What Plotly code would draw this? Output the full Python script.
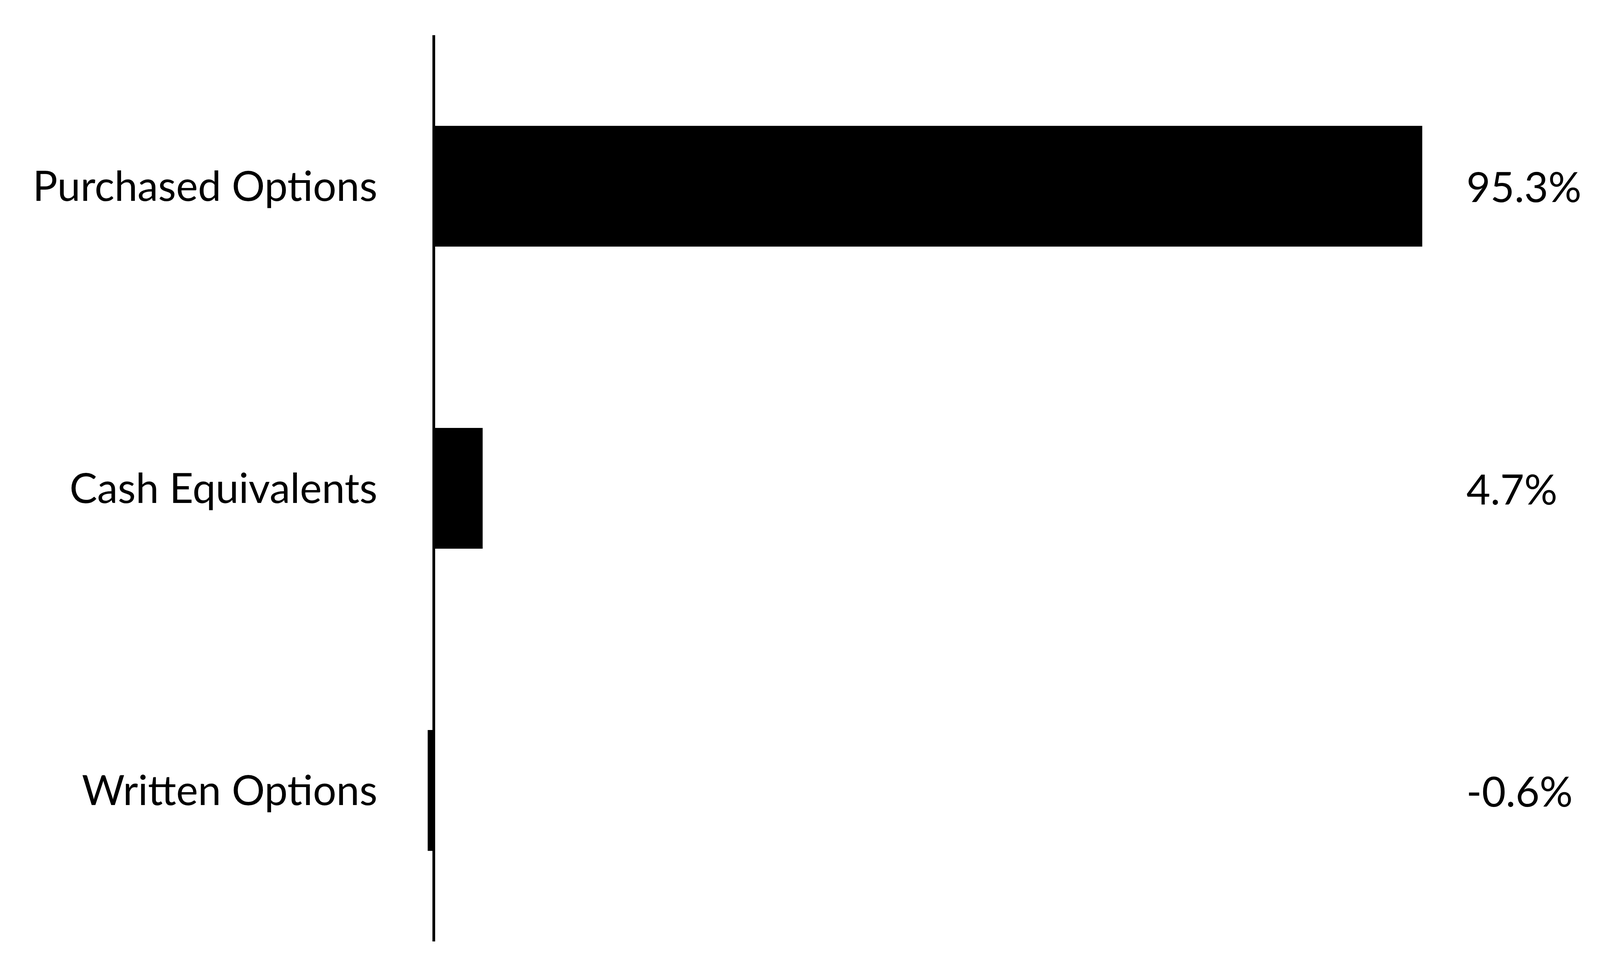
import plotly.graph_objects as go

categories = ["Purchased Options", "Cash Equivalents", "Written Options"]
values = [95.3, 4.7, -0.6]
value_labels = ["95.3%", "4.7%", "-0.6%"]

FONT = "Lato"
FS = 106

fig = go.Figure()
fig.add_trace(go.Bar(
    x=values, y=categories, orientation="h",
    marker=dict(color="black", line=dict(width=0)),
    width=0.4, hoverinfo="skip",
))

for cat, lab in zip(categories, value_labels):
    fig.add_annotation(
        x=0.9176, xref="paper", y=cat, yref="y",
        text=lab, showarrow=False, xanchor="left", yanchor="middle",
        font=dict(family=FONT, size=FS, color="black"),
    )

fig.update_layout(
    autosize=True,
    margin=dict(l=0, r=0, t=0, b=0, pad=0),
    paper_bgcolor="white", plot_bgcolor="white",
    showlegend=False,
    xaxis=dict(domain=[0.239, 0.9015], range=[-4.81, 97.0], showgrid=False,
               showticklabels=False, zeroline=True, zerolinecolor="black",
               zerolinewidth=6.5, showline=False, ticks=""),
    yaxis=dict(domain=[0.0334, 0.967], range=[2.5, -0.5], showgrid=False,
               zeroline=False, showline=False, ticks="", ticklabelstandoff=16,
               tickfont=dict(family=FONT, size=FS, color="black")),
)

fig.write_html("out.html", default_width="100%", default_height="calc(100vh - 16px)",
               config={"responsive": True})
